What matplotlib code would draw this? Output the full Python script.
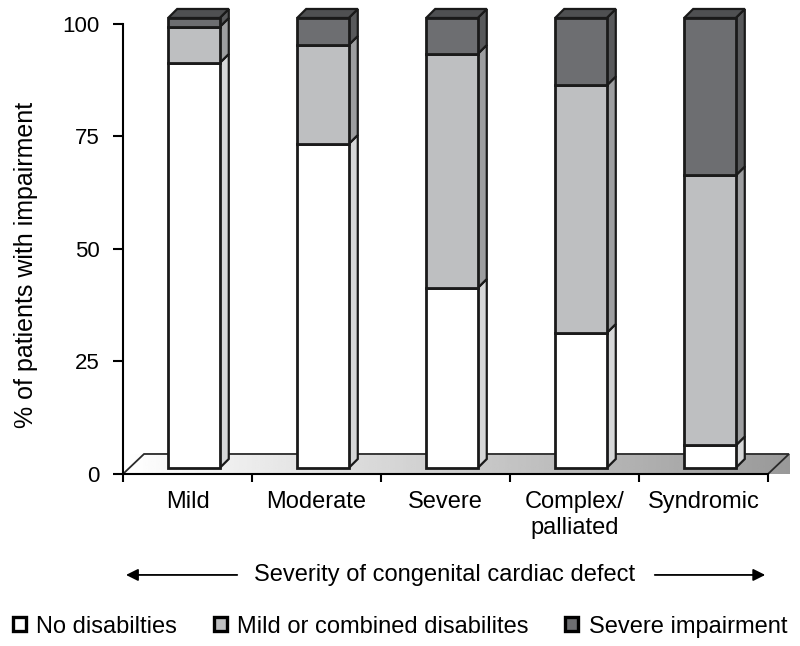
import matplotlib.pyplot as plt
import numpy as np
from matplotlib.patches import Polygon, Patch

plt.rcParams['font.family'] = ['Liberation Sans', 'DejaVu Sans']

categories = ['Mild', 'Moderate', 'Severe', 'Complex/\npalliated', 'Syndromic']
no_disab = [90, 72, 40, 30, 5]
mild_comb = [8, 22, 52, 55, 60]
severe = [2, 6, 8, 15, 35]
series_names = ['No disabilties', 'Mild or combined disabilites', 'Severe impairment']

front_cols = ['#ffffff', '#bebfc1', '#6d6e71']
side_cols = ['#d6d7d8', '#9d9ea0', '#58595b']
top_col = '#4f5052'

fig = plt.figure(figsize=(8, 6.46), dpi=100)
ax = fig.add_axes([0.15375, 0.2663, 0.80625, 0.721])
ax.set_xlim(-0.5, 4.5)
ax.set_ylim(0, 103.5)

# 3d offsets (data units)
fdx, fdy = 0.163, 4.44   # floor depth
sx, sy = 0.05, 1.33      # bars set back into the floor
bdx, bdy = 0.07, 2.0     # bar depth
w = 0.4

# floor with gradient
floor = Polygon([(-0.5, 0), (4.5, 0), (4.5 + fdx, fdy), (-0.5 + fdx, fdy)],
                closed=True, facecolor='none', edgecolor='#2a2a2a', lw=1.3,
                clip_on=False, zorder=1)
ax.add_patch(floor)
grad = np.linspace(1.0, 0.6, 256).reshape(1, -1)
im = ax.imshow(grad, cmap='gray', vmin=0, vmax=1, aspect='auto',
               extent=(-0.5, 4.5 + fdx, 0, fdy), zorder=0.5, clip_on=False)
im.set_clip_path(floor)
ax.set_xlim(-0.5, 4.5)
ax.set_ylim(0, 103.5)

x = np.arange(len(categories))
stack = np.vstack([no_disab, mild_comb, severe])
bottoms = np.vstack([np.zeros(len(x)), np.cumsum(stack, axis=0)[:-1]])

for k in range(3):
    ax.bar(x + sx, stack[k], w, bottom=bottoms[k] + sy, color=front_cols[k],
           edgecolor='#1a1a1a', linewidth=2.0, zorder=3, clip_on=False)
    for i in range(len(x)):
        x1 = x[i] + sx + w / 2
        y0 = bottoms[k][i] + sy
        y1 = y0 + stack[k][i]
        side = Polygon([(x1, y0), (x1 + bdx, y0 + bdy), (x1 + bdx, y1 + bdy), (x1, y1)],
                       closed=True, facecolor=side_cols[k], edgecolor='#1a1a1a',
                       lw=1.6, zorder=2.5, clip_on=False)
        ax.add_patch(side)

for i in range(len(x)):
    x0 = x[i] + sx - w / 2
    x1 = x0 + w
    yt = sum(stack[:, i]) + sy
    top = Polygon([(x0, yt), (x1, yt), (x1 + bdx, yt + bdy), (x0 + bdx, yt + bdy)],
                  closed=True, facecolor=top_col, edgecolor='#1a1a1a', lw=1.6,
                  zorder=2.5, clip_on=False)
    ax.add_patch(top)

# axes styling
for s in ['top', 'right']:
    ax.spines[s].set_visible(False)
ax.spines['left'].set_bounds(0, 100)
ax.spines['left'].set_linewidth(1.5)
ax.spines['bottom'].set_linewidth(1.5)
ax.spines['left'].set_zorder(4)
ax.set_yticks([0, 25, 50, 75, 100])
ax.tick_params(axis='y', length=7, width=1.5, labelsize=16, pad=10)
ax.set_xticks(np.arange(-0.5, 5, 1.0))
ax.set_xticklabels([])
ax.tick_params(axis='x', which='major', length=6, width=1.5)
ax.set_xticks(x, minor=True)
ax.set_xticklabels(categories, minor=True, fontsize=17)
ax.tick_params(axis='x', which='minor', length=0, pad=12)
for lab in ax.get_xticklabels(minor=True):
    lab.set_linespacing(1.25)

fig.text(0.033, 0.59, '% of patients with impairment', rotation=90,
         ha='center', va='center', fontsize=18)

# severity arrow
ya = 0.11
fig.text(0.556, ya, 'Severity of congenital cardiac defect', ha='center', va='center',
         fontsize=17)
ax.annotate('', xy=(0.154, ya), xytext=(0.3, ya), xycoords='figure fraction',
            arrowprops=dict(arrowstyle='-|>', color='black', lw=1.3, mutation_scale=18))
ax.annotate('', xy=(0.96, ya), xytext=(0.815, ya), xycoords='figure fraction',
            arrowprops=dict(arrowstyle='-|>', color='black', lw=1.3, mutation_scale=18))

handles = [Patch(facecolor=front_cols[k], edgecolor='black', linewidth=2.4) for k in range(3)]
fig.legend(handles, series_names, loc='center', bbox_to_anchor=(0.5, 0.03), ncol=3,
           frameon=False, fontsize=17, handlelength=0.55, handleheight=0.55,
           handletextpad=0.45, columnspacing=1.55)

fig.savefig('out.png', dpi=100)
